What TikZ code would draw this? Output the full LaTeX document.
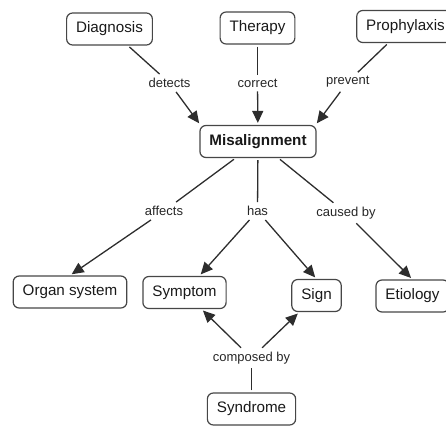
\documentclass[tikz,border=0pt]{standalone}
\usepackage{fontspec}
\setmainfont{Liberation Sans}
\usetikzlibrary{arrows.meta}
\definecolor{linegray}{RGB}{45,45,45}
\definecolor{boxgray}{RGB}{70,70,70}

\begin{document}
\begin{tikzpicture}[
    x=1pt, y=-1pt,
    concept/.style={rectangle, draw=boxgray, line width=1.2pt, rounded corners=6pt,
                    minimum height=32pt, inner xsep=9.5pt, text=black!90,
                    font=\fontsize{15.2}{18}\selectfont},
    phrase/.style={inner sep=4pt, text=black!85, font=\fontsize{13}{15}\selectfont},
    link/.style={line width=1.3pt, color=linegray, shorten <=2pt},
    arrow/.style={-{Triangle[length=12pt,width=11pt]}, line width=1.3pt,
                  color=linegray, shorten >=2pt}
]
\useasboundingbox (0,0) rectangle (446,425);
% concepts
\node[concept] (diag) at (109.5,29) {Diagnosis};
\node[concept] (ther) at (257.5,28) {Therapy};
\node[concept] (proph) at (405.5,26.5) {Prophylaxis};
\node[concept] (mis) at (258,141.5) {\textbf{Misalignment}};
\node[concept] (organ) at (70,292) {Organ system};
\node[concept] (sympt) at (184.5,292.5) {Symptom};
\node[concept] (sign) at (316.5,295.5) {Sign};
\node[concept] (etio) at (412.5,296) {Etiology};
\node[concept] (synd) at (251.5,409) {Syndrome};
% linking phrases
\node[phrase] (detects) at (169.5,83) {detects};
\node[phrase] (correct) at (257.5,83) {correct};
\node[phrase] (prevent) at (347.7,82) {prevent};
\node[phrase] (affects) at (164,211) {affects};
\node[phrase] (has) at (257.5,211) {has};
\node[phrase] (caused) at (346,213) {caused by};
\node[phrase] (composed) at (251.5,358) {composed by};
% links
\draw[link] (diag) -- (detects);
\draw[arrow] (detects) -- ([xshift=1pt]mis.north west);
\draw[link] (ther) -- (correct);
\draw[arrow] (correct) -- (mis);
\draw[link] (proph) -- (prevent);
\draw[arrow] (prevent) -- ([xshift=-1pt]mis.north east);
\draw[link] (mis) -- (affects);
\draw[arrow] (affects) -- (organ.north);
\draw[link] (mis) -- (has);
\draw[arrow] (has) -- (sympt);
\draw[arrow] (has) -- (sign.north);
\draw[link] (mis) -- (caused);
\draw[arrow] (caused) -- (etio.north);
\draw[link] (synd) -- (composed);
\draw[arrow] (composed) -- (sympt);
\draw[arrow] (composed) -- (sign);
\end{tikzpicture}
\end{document}
